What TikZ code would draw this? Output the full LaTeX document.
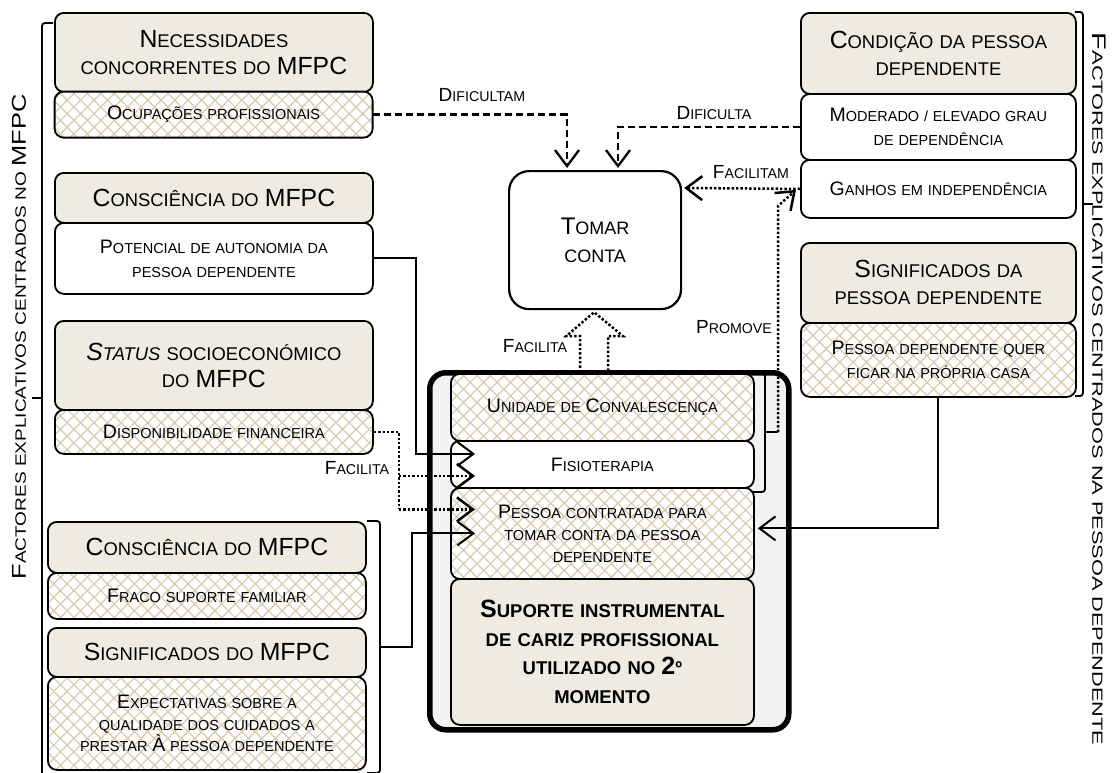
\documentclass[tikz,border=0pt]{standalone}
\usepackage{fontspec}
\usepackage{graphicx}
\setmainfont{Liberation Sans}
\usetikzlibrary{arrows.meta,patterns.meta,calc}
\definecolor{tanbg}{HTML}{EEECE1}
\definecolor{hatchc}{HTML}{D3CCAE}
\definecolor{panelbg}{HTML}{F2F2F2}
% emulated small capitals: the capital letters are set larger
\newcommand\bigsz{20}
\newcommand\B[1]{{\fontsize{\bigsz}{\bigsz}\selectfont#1}}
\tikzset{
  box/.style={draw, line width=1.8pt, rounded corners=9pt, anchor=north west,
    inner sep=0pt, align=center},
  hdr/.style={box, fill=tanbg, font={\def\bigsz{24.8}\fontsize{18.4}{27}\selectfont}},
  sub/.style={box, font={\def\bigsz{19.5}\fontsize{14.5}{24}\selectfont}},
  csub/.style={box, font={\def\bigsz{19.5}\fontsize{14.5}{22}\selectfont}},
  plain/.style={fill=white},
  hatch/.style={preaction={fill=white},
    pattern={Hatch[angle=45,distance=9.5pt,line width=1.2pt]}, pattern color=hatchc},
  lbl/.style={inner sep=0pt, font={\def\bigsz{19}\fontsize{14.2}{16}\selectfont}},
  arr/.style={-{Straight Barb[length=16pt,width=24pt]}},
  solidc/.style={line width=2pt},
  dashc/.style={line width=2.3pt, dash pattern=on 7pt off 4pt},
  dotc/.style={line width=2.5pt, dash pattern=on 2.4pt off 2pt},
  brace/.style={line width=1.8pt, rounded corners=3pt},
}
\begin{document}
\begin{tikzpicture}[x=1pt,y=-1pt]
\useasboundingbox (0,0) rectangle (1119,772);

% ---- factors centred on the family carer (left column)
\node[hdr, minimum width=318, text width=310, minimum height=79] (nec) at (54,12)
  {\B{N}ECESSIDADES\\CONCORRENTES DO \B{MFPC}};
\node[sub, hatch, minimum width=318, text width=310, minimum height=46] (ocup) at (54,91)
  {\B{O}CUPAÇÕES PROFISSIONAIS};
\node[hdr, minimum width=318, text width=310, minimum height=50] (consc) at (54,172)
  {\B{C}ONSCIÊNCIA DO \B{MFPC}};
\node[sub, plain, minimum width=318, text width=310, minimum height=71] (pot) at (54,222)
  {\B{P}OTENCIAL DE AUTONOMIA DA\\PESSOA DEPENDENTE};
\node[hdr, minimum width=318, text width=310, minimum height=89] (stat) at (54,320)
  {\textit{\B{S}TATUS} SOCIOECONÓMICO\\DO \B{MFPC}};
\node[sub, hatch, minimum width=318, text width=310, minimum height=44] (disp) at (54,409)
  {\B{D}ISPONIBILIDADE FINANCEIRA};

\node[hdr, minimum width=318, text width=310, minimum height=51] (consc2) at (47,521)
  {\B{C}ONSCIÊNCIA DO \B{MFPC}};
\node[sub, hatch, minimum width=318, text width=310, minimum height=46] (fraco) at (47,572)
  {\B{F}RACO SUPORTE FAMILIAR};
\node[hdr, minimum width=318, text width=310, minimum height=49] (signm) at (47,627)
  {\B{S}IGNIFICADOS DO \B{MFPC}};
\node[sub, hatch, minimum width=318, text width=310, minimum height=93,
  font={\def\bigsz{19.5}\fontsize{14.5}{21.5}\selectfont}] (expect) at (47,676)
  {\B{E}XPECTATIVAS SOBRE A\\QUALIDADE DOS CUIDADOS A\\PRESTAR \B{À} PESSOA DEPENDENTE};

% ---- factors centred on the dependent person (right column)
\node[hdr, minimum width=275, text width=267, minimum height=81] (cond) at (800,12)
  {\B{C}ONDIÇÃO DA PESSOA\\DEPENDENTE};
\node[sub, plain, minimum width=275, text width=267, minimum height=66] (grau) at (800,93)
  {\B{M}ODERADO / ELEVADO GRAU\\DE DEPENDÊNCIA};
\node[sub, plain, minimum width=275, text width=267, minimum height=58] (ganhos) at (800,159)
  {\B{G}ANHOS EM INDEPENDÊNCIA};
\node[hdr, minimum width=275, text width=267, minimum height=80] (signp) at (800,242)
  {\B{S}IGNIFICADOS DA\\PESSOA DEPENDENTE};
\node[sub, hatch, minimum width=275, text width=267, minimum height=74] (casa) at (800,322)
  {\B{P}ESSOA DEPENDENTE QUER\\FICAR NA PRÓPRIA CASA};

% ---- centre
\node[box, plain, line width=2.2pt, rounded corners=20pt, minimum width=172, text width=164,
  minimum height=138, font={\def\bigsz{24}\fontsize{18}{28}\selectfont}] (tomar) at (508,170)
  {\B{T}OMAR\\CONTA};

\node[draw, line width=5.5pt, rounded corners=16pt, fill=panelbg, anchor=north west,
  minimum width=359, minimum height=357, inner sep=0pt] (panel) at (427,370) {};

\node[csub, hatch, minimum width=303, text width=295, minimum height=67] (conv) at (450,373)
  {\B{U}NIDADE DE \B{C}ONVALESCENÇA};
\node[csub, plain, minimum width=303, text width=295, minimum height=47] (fisio) at (450,440)
  {\B{F}ISIOTERAPIA};
\node[csub, hatch, minimum width=303, text width=295, minimum height=91] (contr) at (450,487)
  {\B{P}ESSOA CONTRATADA PARA\\TOMAR CONTA DA PESSOA\\DEPENDENTE};
\node[box, fill=tanbg, minimum width=303, text width=295, minimum height=146,
  font={\bfseries\def\bigsz{25}\fontsize{18.5}{28.5}\selectfont}] (sup) at (450,578)
  {\B{S}UPORTE INSTRUMENTAL\\DE CARIZ PROFISSIONAL\\UTILIZADO NO \B{2}º\\MOMENTO};

% ---- brackets
\draw[brace] (53,23) -- (42,23) -- (42,773);
\draw[brace] (42,398) -- (32,398);
\draw[brace] (367,521) -- (380,521) -- (380,773) -- (367,773);
\coordinate (brk2) at (380,647);
\draw[brace] (753,373) -- (765,373) -- (765,492) -- (753,492);
\coordinate (brk3) at (778,432);
\draw[brace] (765,432) -- (brk3);
\draw[brace] (1075,12) -- (1083,12) -- (1083,396) -- (1075,396);
\draw[brace] (1083,204) -- (1093,204);

% ---- side labels
\node[inner sep=0pt, rotate=90, font={\def\bigsz{18}\fontsize{13.5}{16}\selectfont}] (lftlbl) at (19,337)
  {\resizebox{485pt}{14pt}{\B{F}ACTORES EXPLICATIVOS CENTRADOS NO \B{MFPC}}};
\node[inner sep=0pt, rotate=-90, font={\def\bigsz{18}\fontsize{13.5}{16}\selectfont}] (rgtlbl) at (1099,389)
  {\resizebox{712pt}{13.5pt}{\B{F}ACTORES EXPLICATIVOS CENTRADOS NA PESSOA DEPENDENTE}};

% ---- connectors
\draw[dashc, arr] (ocup.east) -| ($(tomar.north west)+(59,-2)$);
\node[lbl] (l1) at (482,95) {\B{D}IFICULTAM};
\draw[dashc, arr] (grau.west) -| ($(tomar.north west)+(110,-2)$);
\node[lbl] (l2) at (714,113) {\B{D}IFICULTA};
\draw[dotc, arr] (ganhos.west) -- ($(tomar.north east)+(2,18)$);
\node[lbl] (l3) at (751,172) {\B{F}ACILITAM};
\draw[dotc, arr] (brk3) -- (778,206) -- ($(ganhos.west)+(-4,1)$);
\node[lbl] (l4) at (734,327) {\B{P}ROMOVE};

\draw[dotc] ($(tomar.south)+(-15,62)$) -- ++(0,-36) -- ++(-14,0)
  -- ($(tomar.south)+(-1,2)$) -- ($(tomar.south)+(28,26)$) -- ++(-15,0) -- ++(0,36);
\node[lbl] (l5) at (535,346) {\B{F}ACILITA};

\draw[solidc, arr] (pot.east) -| ($(fisio.west)+(-34,-10.5)$) -- ($(fisio.west)+(25,-10.5)$);
\draw[dotc] (disp.east) -| ($(contr.west)+(-51,-24)$) coordinate (dv);
\draw[dotc, arr] (dv) -- ($(contr.west)+(25,-24)$);
\draw[dotc, arr] ($(fisio.west)+(-51,11.5)$) -- ($(fisio.west)+(25,11.5)$);
\node[lbl] (l6) at (357,468) {\B{F}ACILITA};
\draw[solidc, arr] (brk2) -| ($(contr.west)+(-38,0)$) -- ($(contr.west)+(25,0)$);
\draw[solidc, arr] (casa.south) |- ($(contr.east)+(3,-5)$);
\end{tikzpicture}
\end{document}
